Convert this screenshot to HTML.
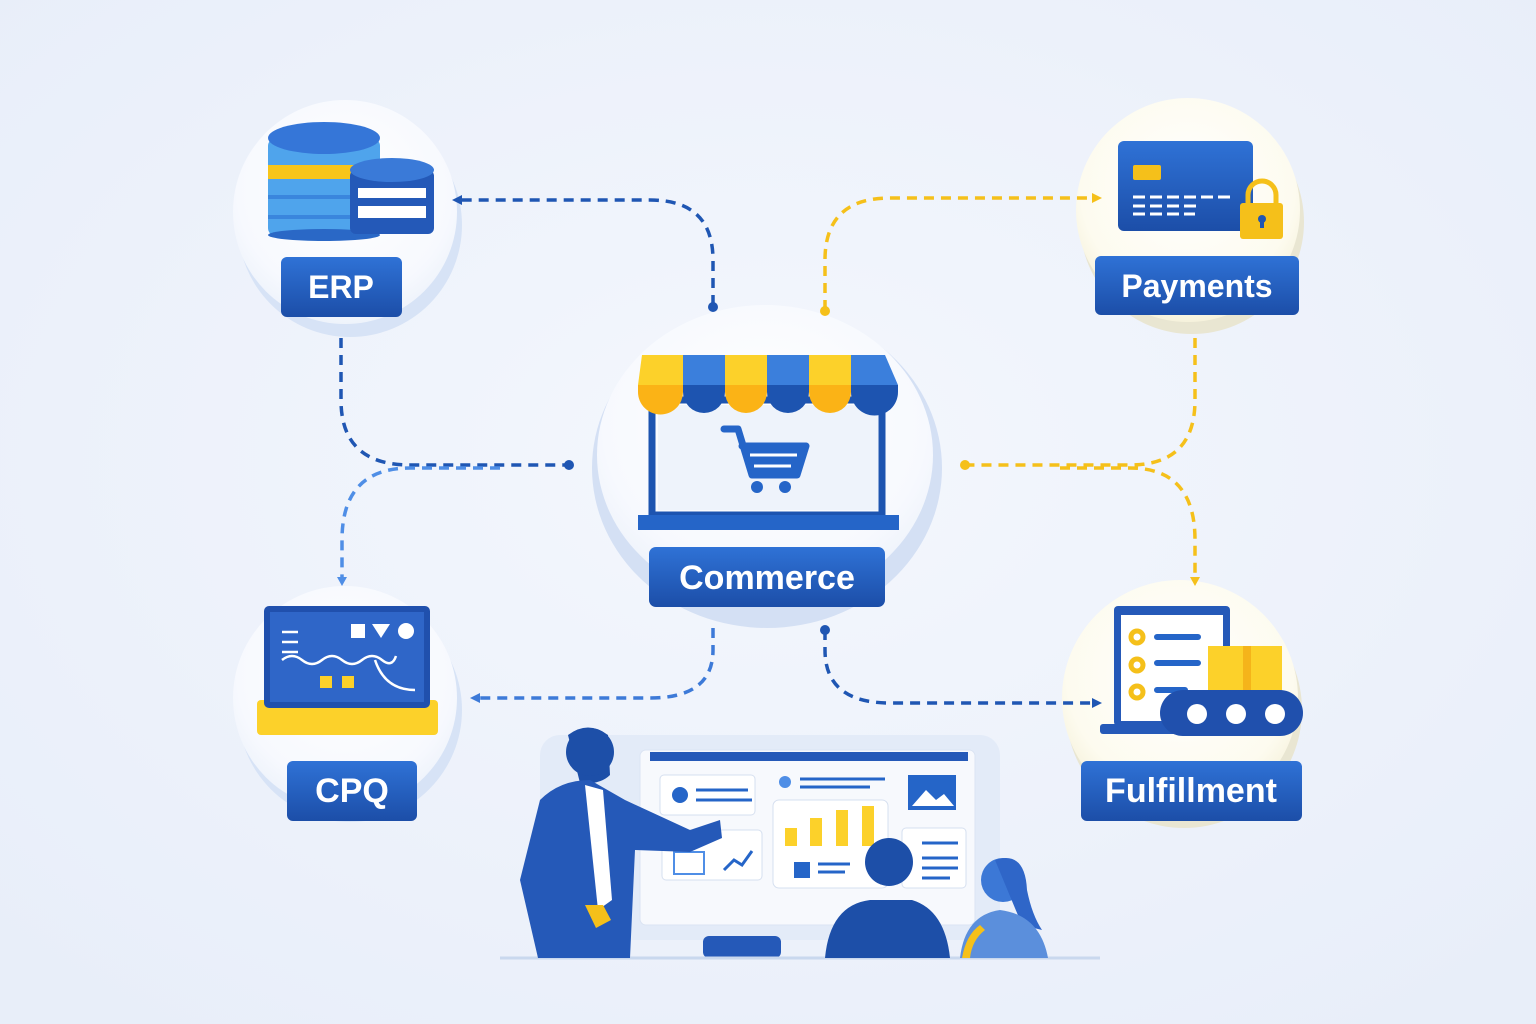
<!DOCTYPE html>
<html><head><meta charset="utf-8"><style>
html,body{margin:0;padding:0;background:#eef3fb;}
svg{display:block}
text{font-family:"Liberation Sans","DejaVu Sans",sans-serif;font-weight:bold;fill:#fff}
</style></head><body>
<svg width="1536" height="1024" viewBox="0 0 1536 1024" xmlns="http://www.w3.org/2000/svg">
<defs>
<radialGradient id="bg" cx="50%" cy="45%" r="70%"><stop offset="0" stop-color="#f4f7fd"/><stop offset="1" stop-color="#e8eef9"/></radialGradient>
<radialGradient id="cw" cx="50%" cy="40%" r="60%"><stop offset="0" stop-color="#ffffff"/><stop offset="0.8" stop-color="#f7f9fe"/><stop offset="1" stop-color="#eef3fb"/></radialGradient>
<radialGradient id="cy" cx="50%" cy="40%" r="60%"><stop offset="0" stop-color="#ffffff"/><stop offset="0.8" stop-color="#fdfbef"/><stop offset="1" stop-color="#f6f2dc"/></radialGradient>
<linearGradient id="lb" x1="0" y1="0" x2="0" y2="1"><stop offset="0" stop-color="#2f72d6"/><stop offset="1" stop-color="#1c4ea8"/></linearGradient>
</defs>
<rect width="1536" height="1024" fill="url(#bg)"/>

<!-- circles with shadows -->
<circle cx="350" cy="225" r="112" fill="#d7e3f6"/>
<circle cx="345" cy="212" r="112" fill="url(#cw)"/>
<circle cx="1192" cy="222" r="112" fill="#e9e6d2"/>
<circle cx="1188" cy="210" r="112" fill="url(#cy)"/>
<circle cx="350" cy="710" r="112" fill="#d7e3f6"/>
<circle cx="345" cy="698" r="112" fill="url(#cw)"/>
<circle cx="1184" cy="710" r="118" fill="#e9e6d2"/>
<circle cx="1180" cy="698" r="118" fill="url(#cy)"/>
<ellipse cx="767" cy="468" rx="175" ry="160" fill="#d4e0f4"/>
<ellipse cx="765" cy="455" rx="168" ry="150" fill="url(#cw)"/>

<!-- connectors -->
<g fill="none" stroke-width="3.5" stroke-dasharray="10 7">
<path d="M713,305 V260 Q713,200 650,200 H455" stroke="#1f56b3"/>
<path d="M825,310 V260 Q825,198 890,198 H1095" stroke="#f5c01a"/>
<path d="M341,338 V400 Q341,465 410,465 H568" stroke="#1f56b3"/>
<path d="M500,468 H410 Q342,468 342,540 V580" stroke="#4f8ee6"/>
<path d="M1195,338 V400 Q1195,465 1130,465 H965" stroke="#f5c01a"/>
<path d="M1060,468 H1130 Q1195,468 1195,540 V580" stroke="#f5c01a"/>
<path d="M713,628 V650 Q713,698 650,698 H475" stroke="#3d7ad8"/>
<path d="M825,630 V650 Q825,703 890,703 H1095" stroke="#1f56b3"/>
</g>
<g>
<circle cx="713" cy="307" r="5" fill="#1f56b3"/><circle cx="825" cy="311" r="5" fill="#f5c01a"/>
<circle cx="569" cy="465" r="5" fill="#1f56b3"/><circle cx="965" cy="465" r="5" fill="#f5c01a"/>
<circle cx="825" cy="630" r="5" fill="#1f56b3"/>
<path d="M452,200 l10,-5 v10z" fill="#1f56b3"/>
<path d="M1102,198 l-10,-5 v10z" fill="#f5c01a"/>
<path d="M342,586 l-5,-9 h10z" fill="#4f8ee6"/>
<path d="M1195,586 l-5,-9 h10z" fill="#f5c01a"/>
<path d="M470,698 l10,-5 v10z" fill="#3d7ad8"/>
<path d="M1102,703 l-10,-5 v10z" fill="#1f56b3"/>
</g>

<!-- ERP icon -->
<g>
<rect x="268" y="138" width="112" height="98" rx="8" fill="#4fa4ec"/>
<rect x="268" y="165" width="112" height="14" fill="#f7c51a"/>
<rect x="268" y="195" width="112" height="4" fill="#3a86dd"/>
<rect x="268" y="215" width="112" height="4" fill="#3a86dd"/>
<ellipse cx="324" cy="138" rx="56" ry="16" fill="#3576d8"/>
<ellipse cx="324" cy="235" rx="56" ry="6" fill="#2a68c6"/>
<rect x="350" y="170" width="84" height="64" rx="6" fill="#2459b8"/>
<ellipse cx="392" cy="170" rx="42" ry="12" fill="#3a7ad8"/>
<rect x="358" y="188" width="68" height="10" fill="#fff"/>
<rect x="358" y="206" width="68" height="12" fill="#fff"/>
</g>
<rect x="281" y="257" width="121" height="60" rx="6" fill="url(#lb)"/>
<text x="341" y="298" font-size="32" text-anchor="middle">ERP</text>

<!-- Payments icon -->
<rect x="1118" y="141" width="135" height="90" rx="6" fill="url(#lb)"/>
<rect x="1133" y="165" width="28" height="15" rx="2" fill="#f5c01a"/>
<g stroke="#fff" stroke-width="3" stroke-dasharray="12 5"><path d="M1133,197 H1232"/><path d="M1133,206 H1200"/><path d="M1133,214 H1195"/></g>
<path d="M1248,205 v-10 a14,14 0 0 1 28,0 v10" fill="none" stroke="#f5c01a" stroke-width="5"/>
<rect x="1240" y="203" width="43" height="36" rx="3" fill="#f5c01a"/>
<circle cx="1262" cy="219" r="4" fill="#1f56b3"/><rect x="1260" y="219" width="4" height="9" fill="#1f56b3"/>
<rect x="1095" y="256" width="204" height="59" rx="6" fill="url(#lb)"/>
<text x="1197" y="297" font-size="32" text-anchor="middle">Payments</text>

<!-- Commerce store -->
<rect x="652" y="400" width="230" height="115" fill="none" stroke="#1d54b0" stroke-width="7"/>
<rect x="658" y="405" width="220" height="105" fill="#eef3fb"/>
<g>
<path d="M642,355 H683 V385 H638z" fill="#fcd12a"/>
<rect x="683" y="355" width="42" height="30" fill="#3b7fdc"/>
<rect x="725" y="355" width="42" height="30" fill="#fcd12a"/>
<rect x="767" y="355" width="42" height="30" fill="#3b7fdc"/>
<rect x="809" y="355" width="42" height="30" fill="#fcd12a"/>
<path d="M851,355 H885 L898,385 H851z" fill="#3b7fdc"/>
<path d="M638,385 H683 V392 a22,22 0 0 1 -45,0z" fill="#fbb316"/>
<path d="M683,385 H725 V392 a21,21 0 0 1 -42,0z" fill="#1d54b0"/>
<path d="M725,385 H767 V392 a21,21 0 0 1 -42,0z" fill="#fbb316"/>
<path d="M767,385 H809 V392 a21,21 0 0 1 -42,0z" fill="#1d54b0"/>
<path d="M809,385 H851 V392 a21,21 0 0 1 -42,0z" fill="#fbb316"/>
<path d="M851,385 H898 V392 a23.5,23.5 0 0 1 -47,0z" fill="#1d54b0"/>
</g>
<path d="M724,429 H738 L752,475 H797 L806,446 H742" fill="none" stroke="#2565c8" stroke-width="7" stroke-linejoin="round" stroke-linecap="round"/>
<path d="M742,446 H806 L797,475 H752z" fill="#2565c8"/>
<path d="M750,455 H797 M754,466 H791" stroke="#fff" stroke-width="3"/>
<circle cx="757" cy="487" r="6" fill="#2565c8"/><circle cx="785" cy="487" r="6" fill="#2565c8"/>
<rect x="638" y="515" width="261" height="15" fill="#2565c8"/>
<rect x="649" y="547" width="236" height="60" rx="7" fill="url(#lb)"/>
<text x="767" y="589" font-size="34" text-anchor="middle">Commerce</text>

<!-- CPQ icon -->
<rect x="257" y="700" width="181" height="35" rx="4" fill="#fcd12a"/>
<rect x="264" y="606" width="166" height="102" rx="5" fill="#2050ad"/>
<rect x="270" y="612" width="154" height="90" fill="#2f66c8"/>
<g stroke="#fff" stroke-width="2.5" fill="none">
<path d="M282,632 H298 M282,642 H298 M282,652 H298"/>
<path d="M282,660 q10,-8 20,0 t20,0 t20,0 t20,0 t20,0 t14,-4"/>
<path d="M375,660 q10,30 40,30"/>
</g>
<rect x="351" y="624" width="14" height="14" fill="#fff"/>
<path d="M372,624 h18 l-9,14z" fill="#fff"/>
<circle cx="406" cy="631" r="8" fill="#fff"/>
<rect x="320" y="676" width="12" height="12" fill="#fcd12a"/><rect x="342" y="676" width="12" height="12" fill="#fcd12a"/>
<rect x="287" y="761" width="130" height="60" rx="6" fill="url(#lb)"/>
<text x="352" y="802" font-size="34" text-anchor="middle">CPQ</text>

<!-- Fulfillment icon -->
<rect x="1114" y="606" width="116" height="120" rx="4" fill="#2559b8"/>
<rect x="1121" y="615" width="102" height="106" fill="#fff"/>
<rect x="1100" y="724" width="140" height="10" rx="3" fill="#2559b8"/>
<g fill="none" stroke="#f5c01a" stroke-width="5"><circle cx="1137" cy="637" r="6"/><circle cx="1137" cy="665" r="6"/><circle cx="1137" cy="692" r="6"/></g>
<g stroke="#2565c8" stroke-width="6" stroke-linecap="round"><path d="M1157,637 H1198 M1157,663 H1198 M1157,690 H1185"/></g>
<rect x="1208" y="646" width="74" height="50" fill="#fcd12a"/><rect x="1243" y="646" width="8" height="50" fill="#f5b41a"/>
<rect x="1160" y="690" width="143" height="46" rx="23" fill="#2050ad"/>
<g fill="#fff"><circle cx="1197" cy="714" r="10"/><circle cx="1236" cy="714" r="10"/><circle cx="1275" cy="714" r="10"/></g>
<rect x="1081" y="761" width="221" height="60" rx="6" fill="url(#lb)"/>
<text x="1191" y="802" font-size="34" text-anchor="middle">Fulfillment</text>

<!-- presentation scene -->
<rect x="540" y="735" width="460" height="205" rx="20" fill="#e3ebf8"/>
<rect x="640" y="750" width="335" height="175" rx="6" fill="#f7f9fd" stroke="#dbe4f3"/>
<rect x="650" y="752" width="318" height="9" fill="#2559b8"/>
<rect x="660" y="775" width="95" height="40" rx="4" fill="#fff" stroke="#d6e0f0"/>
<circle cx="680" cy="795" r="8" fill="#2565c8"/>
<path d="M696,790 H748 M696,800 H752" stroke="#2565c8" stroke-width="3"/>
<circle cx="785" cy="782" r="6" fill="#4f8ee6"/>
<path d="M800,779 H885 M800,787 H870" stroke="#2565c8" stroke-width="3"/>
<rect x="908" y="775" width="48" height="35" fill="#2565c8"/><path d="M912,806 l14,-16 10,10 8,-6 10,12z" fill="#fff"/>
<rect x="773" y="800" width="115" height="88" rx="6" fill="#fff" stroke="#d6e0f0"/>
<g fill="#fcd12a"><rect x="785" y="828" width="12" height="18"/><rect x="810" y="818" width="12" height="28"/><rect x="836" y="810" width="12" height="36"/><rect x="862" y="806" width="12" height="40"/></g>
<rect x="794" y="862" width="16" height="16" fill="#2565c8"/>
<path d="M818,864 H850 M818,872 H845" stroke="#2565c8" stroke-width="3"/>
<rect x="662" y="830" width="100" height="50" rx="4" fill="#fff" stroke="#d6e0f0"/>
<rect x="674" y="852" width="30" height="22" fill="none" stroke="#4f8ee6" stroke-width="2"/>
<path d="M724,870 l10,-10 8,5 10,-14" fill="none" stroke="#2565c8" stroke-width="3"/>
<rect x="902" y="828" width="64" height="60" rx="4" fill="#fff" stroke="#d6e0f0"/>
<path d="M922,843 H958 M922,858 H958 M922,868 H958 M922,878 H950" stroke="#2565c8" stroke-width="3"/>
<rect x="703" y="936" width="78" height="22" rx="6" fill="#2559b8"/>
<path d="M500,958 H1100" stroke="#c9d8ee" stroke-width="3"/>
<!-- presenter -->
<path d="M568,735 q20,-15 40,0 l2,40 q-10,10 -30,8 z" fill="#1d4fa8"/>
<circle cx="590" cy="752" r="24" fill="#1d4fa8"/>
<path d="M540,800 Q560,780 590,780 L625,800 L690,830 L720,820 L722,838 L690,852 L635,850 L630,958 H538 L520,880z" fill="#2559b8"/>
<path d="M585,785 L603,790 L612,900 L598,910z" fill="#fff"/>
<path d="M585,905 l18,0 8,15 -15,8z" fill="#f5c01a"/>
<!-- audience -->
<circle cx="889" cy="862" r="24" fill="#1d4fa8"/>
<path d="M825,958 Q830,905 870,900 H912 Q945,910 950,958z" fill="#1d4fa8"/>
<circle cx="1003" cy="880" r="22" fill="#3c78d6"/>
<path d="M995,860 q30,-10 32,30 q5,25 15,40 l-20,-5z" fill="#2f66c8"/>
<path d="M960,958 Q965,915 1000,910 Q1040,915 1048,958z" fill="#5b8fdc"/>
<path d="M962,958 Q966,935 980,925 L985,930 Q972,940 970,958z" fill="#f5c01a"/>
</svg>
</body></html>
